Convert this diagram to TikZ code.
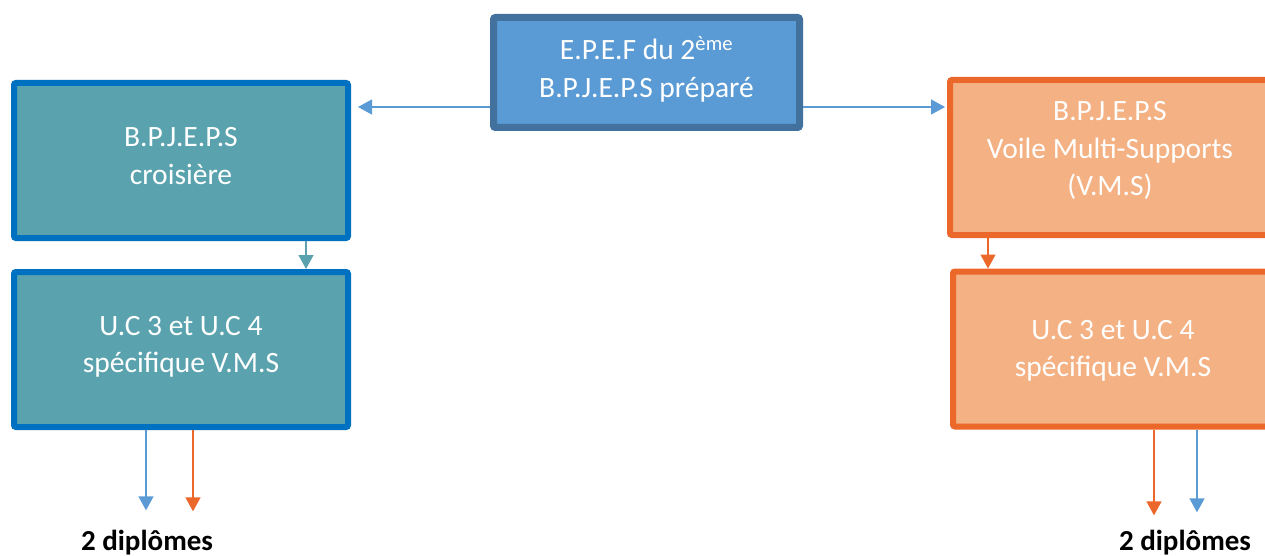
\documentclass[tikz,border=0pt]{standalone}
\usepackage{fontspec}
\setmainfont{Carlito}
\usetikzlibrary{arrows.meta}
\definecolor{topfill}{HTML}{5B9BD5}
\definecolor{topdraw}{HTML}{41719C}
\definecolor{tealfill}{HTML}{5AA3AE}
\definecolor{bluedraw}{HTML}{0070C0}
\definecolor{orfill}{HTML}{F4B183}
\definecolor{ordraw}{HTML}{EC672A}
\definecolor{lblue}{HTML}{5B9BD5}
\tikzset{
  boxbase/.style={rectangle, rounded corners=2pt, inner sep=0pt},
  boxtext/.style={align=center, text=white, inner sep=0pt,
    font=\fontsize{29.5}{37.5}\selectfont},
  topbox/.style={boxbase, fill=topfill, draw=topdraw, line width=7pt,
    minimum width=306pt, minimum height=110pt},
  tealbox/.style={boxbase, fill=tealfill, draw=bluedraw, line width=6pt,
    minimum width=334pt, minimum height=155pt},
  orbox/.style={boxbase, fill=orfill, draw=ordraw, line width=6pt,
    minimum width=320pt, minimum height=155pt},
  conn/.style={line width=1.3pt, -{Triangle[width=15pt,length=14pt]}},
  lbl/.style={font=\fontsize{29}{34}\selectfont\bfseries, text=black, inner sep=0pt}
}
\begin{document}
\begin{tikzpicture}[x=1pt,y=-1pt]
\useasboundingbox (0,0) rectangle (1265,556);
\clip (0,0) rectangle (1265,556);
\node[topbox] (top) at (646.5,72.5) {};
\node[tealbox] (lt) at (181,160.5) {};
\node[tealbox] (lb) at (181,349.5) {};
\node[orbox] (rt) at (1110,157.5) {};
\node[orbox] (rb) at (1113,349) {};
\node[boxtext] (topt) at ([yshift=3pt]top.center) {E.P.E.F du 2\textsuperscript{ème}\\B.P.J.E.P.S préparé};
\node[boxtext] (ltt) at ([yshift=4.5pt]lt.center) {B.P.J.E.P.S\\croisière};
\node[boxtext] (lbt) at ([yshift=2.5pt]lb.center) {U.C 3 et U.C 4\\spécifique V.M.S};
\node[boxtext] (rtt) at ([yshift=7pt]rt.center) {B.P.J.E.P.S\\Voile Multi-Supports\\(V.M.S)};
\node[boxtext] (rbt) at ([yshift=-2pt]rb.center) {U.C 3 et U.C 4\\spécifique V.M.S};
\node[lbl] (dl) at (147,543) {2 diplômes};
\node[lbl] (dr) at (1185,543) {2 diplômes};
% top connectors
\draw[conn, lblue, shorten >=7pt] ([yshift=-34.5pt]top.west) -- ([yshift=-34.5pt]top.west -| lt.east);
\draw[conn, lblue, shorten >=2pt] ([yshift=-34.5pt]top.east) -- ([yshift=-34.5pt]top.east -| rt.west);
% box to box
\draw[conn, tealfill] ([xshift=125pt]lt.south) -- ([xshift=125pt]lt.south |- lb.north);
\draw[conn, ordraw] ([xshift=-122pt]rt.south) -- ([xshift=-122pt]rt.south |- rb.north);
% bottom arrows
\draw[conn, lblue, shorten >=20pt] ([xshift=-35pt]lb.south) -- ([xshift=-35pt]lb.south |- dl.north);
\draw[conn, ordraw, shorten >=19pt] ([xshift=12pt]lb.south) -- ([xshift=12pt]lb.south |- dl.north);
\draw[conn, ordraw, shorten >=15pt] ([xshift=41pt]rb.south) -- ([xshift=41pt]rb.south |- dr.north);
\draw[conn, lblue, shorten >=18pt] ([xshift=84pt]rb.south) -- ([xshift=84pt]rb.south |- dr.north);
\end{tikzpicture}
\end{document}
